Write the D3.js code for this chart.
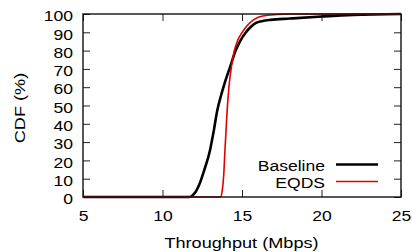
<!DOCTYPE html>
<html>
<head>
<meta charset="utf-8">
<script src="https://cdn.jsdelivr.net/npm/d3@7"></script>
<style>
  body { margin: 0; background: #fff; }
  text { font-family: "Liberation Sans", Arial, sans-serif; }
</style>
</head>
<body>
<div id="chart"></div>
<script>
// CDF points (throughput in Mbps, cdf in %)
var baselineX = [5, 11.7, 11.9, 12.1, 12.3, 12.6, 13.0, 13.2, 13.45, 13.7, 13.9, 14.25, 14.6, 14.9, 15.2, 15.5, 15.85, 16.3, 16.8, 18, 20, 22, 25];
var baselineY = [0, 0, 1, 3, 6.5, 14, 26, 35, 47.5, 56, 62, 71, 80, 85.5, 89.5, 92.5, 95, 96.2, 96.8, 97.5, 98.6, 99.5, 100];
var eqdsX = [5, 13.65, 13.75, 13.85, 13.93, 14.05, 14.2, 14.35, 14.52, 14.75, 15.0, 15.3, 15.7, 16.3, 17.2, 18, 25];
var eqdsY = [0, 0, 3, 12, 26, 45, 62, 72, 80, 86, 89.8, 93.5, 96.7, 98.9, 99.7, 100, 100];
var xTicks = [5, 10, 15, 20, 25];
var yTicks = [0, 10, 20, 30, 40, 50, 60, 70, 80, 90, 100];

var width = 412, height = 252;
var margin = { top: 14, right: 11, bottom: 55, left: 83 };
var stretch = 1.17; // the reference text is a bit wider than plain Arial

var svg = d3.select("#chart").append("svg")
  .attr("width", width)
  .attr("height", height);

var w = width - margin.left - margin.right;
var h = height - margin.top - margin.bottom;

var x = d3.scaleLinear().domain([5, 25]).range([0, w]);
var y = d3.scaleLinear().domain([0, 100]).range([h, 0]);

var g = svg.append("g")
  .attr("transform", "translate(" + margin.left + "," + margin.top + ")");

// ticks on all four sides, pointing inward
var axB = g.append("g").attr("transform", "translate(0," + h + ")")
  .call(d3.axisBottom(x).tickValues(xTicks).tickSizeInner(-7).tickSizeOuter(0).tickPadding(13));
var axL = g.append("g")
  .call(d3.axisLeft(y).tickValues(yTicks).tickSizeInner(-7).tickSizeOuter(0).tickPadding(10));
var axT = g.append("g")
  .call(d3.axisTop(x).tickValues(xTicks).tickSizeInner(-7).tickSizeOuter(0).tickFormat(""));
var axR = g.append("g").attr("transform", "translate(" + w + ",0)")
  .call(d3.axisRight(y).tickValues(yTicks).tickSizeInner(-7).tickSizeOuter(0).tickFormat(""));

[axB, axL, axT, axR].forEach(function (a) {
  a.select(".domain").remove();
  a.selectAll("line").attr("stroke", "#222").attr("stroke-width", 1);
  a.selectAll("text").attr("fill", "#000").style("font-size", "15px");
});
axL.selectAll("text").attr("dy", "0.45em");

var line = d3.line()
  .x(function (d) { return x(d[0]); })
  .y(function (d) { return y(d[1]); })
  .curve(d3.curveMonotoneX);

g.append("path")
  .datum(baselineX.map(function (v, i) { return [v, baselineY[i]]; }))
  .attr("fill", "none")
  .attr("stroke", "#000")
  .attr("stroke-width", 2.6)
  .attr("d", line);

g.append("path")
  .datum(eqdsX.map(function (v, i) { return [v, eqdsY[i]]; }))
  .attr("fill", "none")
  .attr("stroke", "#e00000")
  .attr("stroke-width", 1.6)
  .attr("d", line);

// frame
g.append("rect")
  .attr("width", w).attr("height", h)
  .attr("fill", "none")
  .attr("stroke", "#111")
  .attr("stroke-width", 1.4);

// legend
var legend = [
  { name: "Baseline", color: "#000", sw: 2.6 },
  { name: "EQDS", color: "#e00000", sw: 1.6 }
];
var lg = g.selectAll(".lg").data(legend).enter().append("g")
  .attr("transform", function (d, i) { return "translate(0," + (150.5 + i * 17) + ")"; });
lg.append("text")
  .attr("x", 242).attr("y", 0).attr("dy", "0.43em")
  .attr("text-anchor", "end")
  .style("font-size", "15px")
  .text(function (d) { return d.name; });
lg.append("line")
  .attr("x1", 253).attr("x2", 295)
  .attr("stroke", function (d) { return d.color; })
  .attr("stroke-width", function (d) { return d.sw; });

// axis titles
svg.append("text")
  .attr("x", margin.left + w / 2 - 0.5).attr("y", 247.5)
  .attr("text-anchor", "middle")
  .style("font-size", "15.5px")
  .text("Throughput (Mbps)");
svg.append("text")
  .attr("class", "ytitle")
  .attr("transform", "translate(25,108) rotate(-90) scale(" + stretch + ",1)")
  .attr("text-anchor", "middle")
  .style("font-size", "15.5px")
  .text("CDF (%)");

// widen every label horizontally, keeping its anchor point
svg.selectAll("text:not(.ytitle)").each(function () {
  var t = d3.select(this);
  var tx = +t.attr("x") || 0, ty = +t.attr("y") || 0;
  t.attr("x", 0).attr("y", 0)
    .attr("transform", "translate(" + tx + "," + ty + ") scale(" + stretch + ",1)");
});
</script>
</body>
</html>
